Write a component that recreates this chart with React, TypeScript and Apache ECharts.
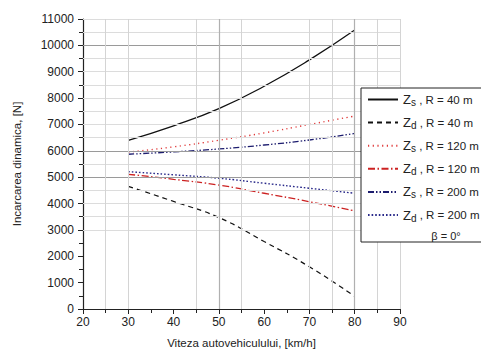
import React, { useEffect, useRef } from "react";
import * as echarts from "echarts";

const speeds = [30, 40, 50, 60, 70, 80];
const zs40 = [6400, 6950, 7600, 8450, 9450, 10580];
const zd40 = [4650, 4080, 3470, 2560, 1600, 480];
const zs120 = [5950, 6150, 6400, 6680, 7000, 7320];
const zd120 = [5110, 4920, 4700, 4390, 4070, 3720];
const zs200 = [5870, 5960, 6070, 6220, 6410, 6660];
const zd200 = [5210, 5090, 4960, 4770, 4580, 4390];

const seriesNames = [
  "Zs, R = 40 m",
  "Zd, R = 40 m",
  "Zs, R = 120 m",
  "Zd, R = 120 m",
  "Zs, R = 200 m",
  "Zd, R = 200 m",
];

const hGridLight = [3000, 3500, 4000, 4500, 5500, 6500, 7000, 7500, 8000, 8500, 9000, 9500, 10500, 11000];
const hGridDark = [5000, 6000, 10000];
const vGridLight = [25, 30, 45, 55, 70, 75, 85, 90];
const vGridDark = [50, 80];

const FONT = "'Liberation Sans', Arial, sans-serif";

export default function App() {
  const ref = useRef<HTMLDivElement>(null);
  useEffect(() => {
    if (!ref.current) return;
    const chart = echarts.init(ref.current, null, { renderer: "svg" });
    const mk = (arr: number[]) => arr.map((v, i) => [speeds[i], v]);
    const styles = [
      { color: "#111", type: "solid" as any, width: 1.3 },
      { color: "#111", type: [5, 4], width: 1.2 },
      { color: "#e03a3a", type: [1.2, 3.5], width: 1.4 },
      { color: "#cc2222", type: [7, 2.5, 1.5, 2.5], width: 1.3 },
      { color: "#1c1c6e", type: [6, 2, 1.5, 2, 1.5, 2], width: 1.3 },
      { color: "#2a2a8a", type: [1.6, 2], width: 1.4 },
    ];
    const datas = [zs40, zd40, zs120, zd120, zs200, zd200];
    const lineSeries = seriesNames.map((name, i) => ({
      name,
      type: "line",
      data: mk(datas[i]),
      smooth: true,
      showSymbol: false,
      symbol: "none",
      z: 3,
      lineStyle: styles[i],
      itemStyle: { color: styles[i].color },
    }));
    const gridSeries = {
      type: "line",
      data: [],
      silent: true,
      z: 1,
      markLine: {
        silent: true,
        symbol: "none",
        label: { show: false },
        animation: false,
        data: [
          ...hGridLight.map((v) => ({ yAxis: v, lineStyle: { color: "#dcdcdc", width: 1, type: "solid" } })),
          ...hGridDark.map((v) => ({ yAxis: v, lineStyle: { color: "#9a9a9a", width: 1, type: "solid" } })),
          ...vGridLight.map((v) => ({ xAxis: v, lineStyle: { color: "#d4d4d4", width: 1, type: "solid" } })),
          ...vGridDark.map((v) => ({ xAxis: v, lineStyle: { color: "#b0b0b0", width: 1.2, type: "solid" } })),
        ],
      },
    };
    const richStyles = {
      z: { fontSize: 13, fontFamily: FONT, color: "#222", lineHeight: 16, verticalAlign: "middle" },
      sub: { fontSize: 10, fontFamily: FONT, color: "#222", lineHeight: 10, verticalAlign: "bottom" },
      t: { fontSize: 11.5, fontFamily: FONT, color: "#222", lineHeight: 16, verticalAlign: "middle" },
    };
    chart.setOption({
      animation: false,
      textStyle: { fontFamily: FONT },
      grid: { left: 83, right: 81, top: 19, bottom: 47 },
      xAxis: {
        type: "value",
        min: 20,
        max: 90,
        interval: 10,
        name: "Viteza autovehiculului, [km/h]",
        nameLocation: "middle",
        nameGap: 28,
        nameTextStyle: { fontSize: 11.5, color: "#222", fontFamily: FONT },
        axisLine: { onZero: false, lineStyle: { color: "#222", width: 1.2 } },
        axisTick: { show: true, length: 5, lineStyle: { color: "#222" } },
        minorTick: { show: true, splitNumber: 2, length: 4, lineStyle: { color: "#222" } },
        axisLabel: { fontSize: 12, color: "#222", margin: 7, fontFamily: FONT },
        splitLine: { show: false },
      },
      yAxis: {
        type: "value",
        min: 0,
        max: 11000,
        interval: 1000,
        name: "Incarcarea dinamica, [N]",
        nameLocation: "middle",
        nameGap: 60,
        nameTextStyle: { fontSize: 11.5, color: "#222", fontFamily: FONT },
        axisLine: { show: true, onZero: false, lineStyle: { color: "#222", width: 1.2 } },
        axisTick: { show: true, length: 5, lineStyle: { color: "#222" } },
        minorTick: { show: true, splitNumber: 2, length: 4, lineStyle: { color: "#222" } },
        axisLabel: { fontSize: 12, color: "#222", margin: 9, fontFamily: FONT, formatter: (v: number) => String(v) },
        splitLine: { show: false },
      },
      legend: {
        orient: "vertical",
        left: 361,
        top: 88,
        data: seriesNames,
        itemWidth: 30,
        itemHeight: 10,
        itemGap: 8.6,
        padding: [5, 30, 19, 6],
        backgroundColor: "#fff",
        borderColor: "#222",
        borderWidth: 1,
        borderRadius: 0,
        z: 10,
        selectedMode: false,
        itemStyle: { opacity: 0 },
        textStyle: { rich: richStyles },
        formatter: (name: string) => {
          const sub = name.charAt(1);
          const rest = name.slice(2);
          return `{z|Z}{sub|${sub}}{t| ${rest}}`;
        },
      },
      graphic: [
        {
          type: "text",
          x: 446,
          y: 236,
          z: 100,
          style: {
            text: "β = 0°",
            fontSize: 11,
            fontFamily: FONT,
            fill: "#222",
            align: "center",
            verticalAlign: "middle",
          },
        },
      ],
      series: [gridSeries, ...lineSeries],
    });
    return () => chart.dispose();
  }, []);
  return <div ref={ref} style={{ position: "fixed", left: 0, top: 0, width: 481, height: 356, background: "#fff" }} />;
}
